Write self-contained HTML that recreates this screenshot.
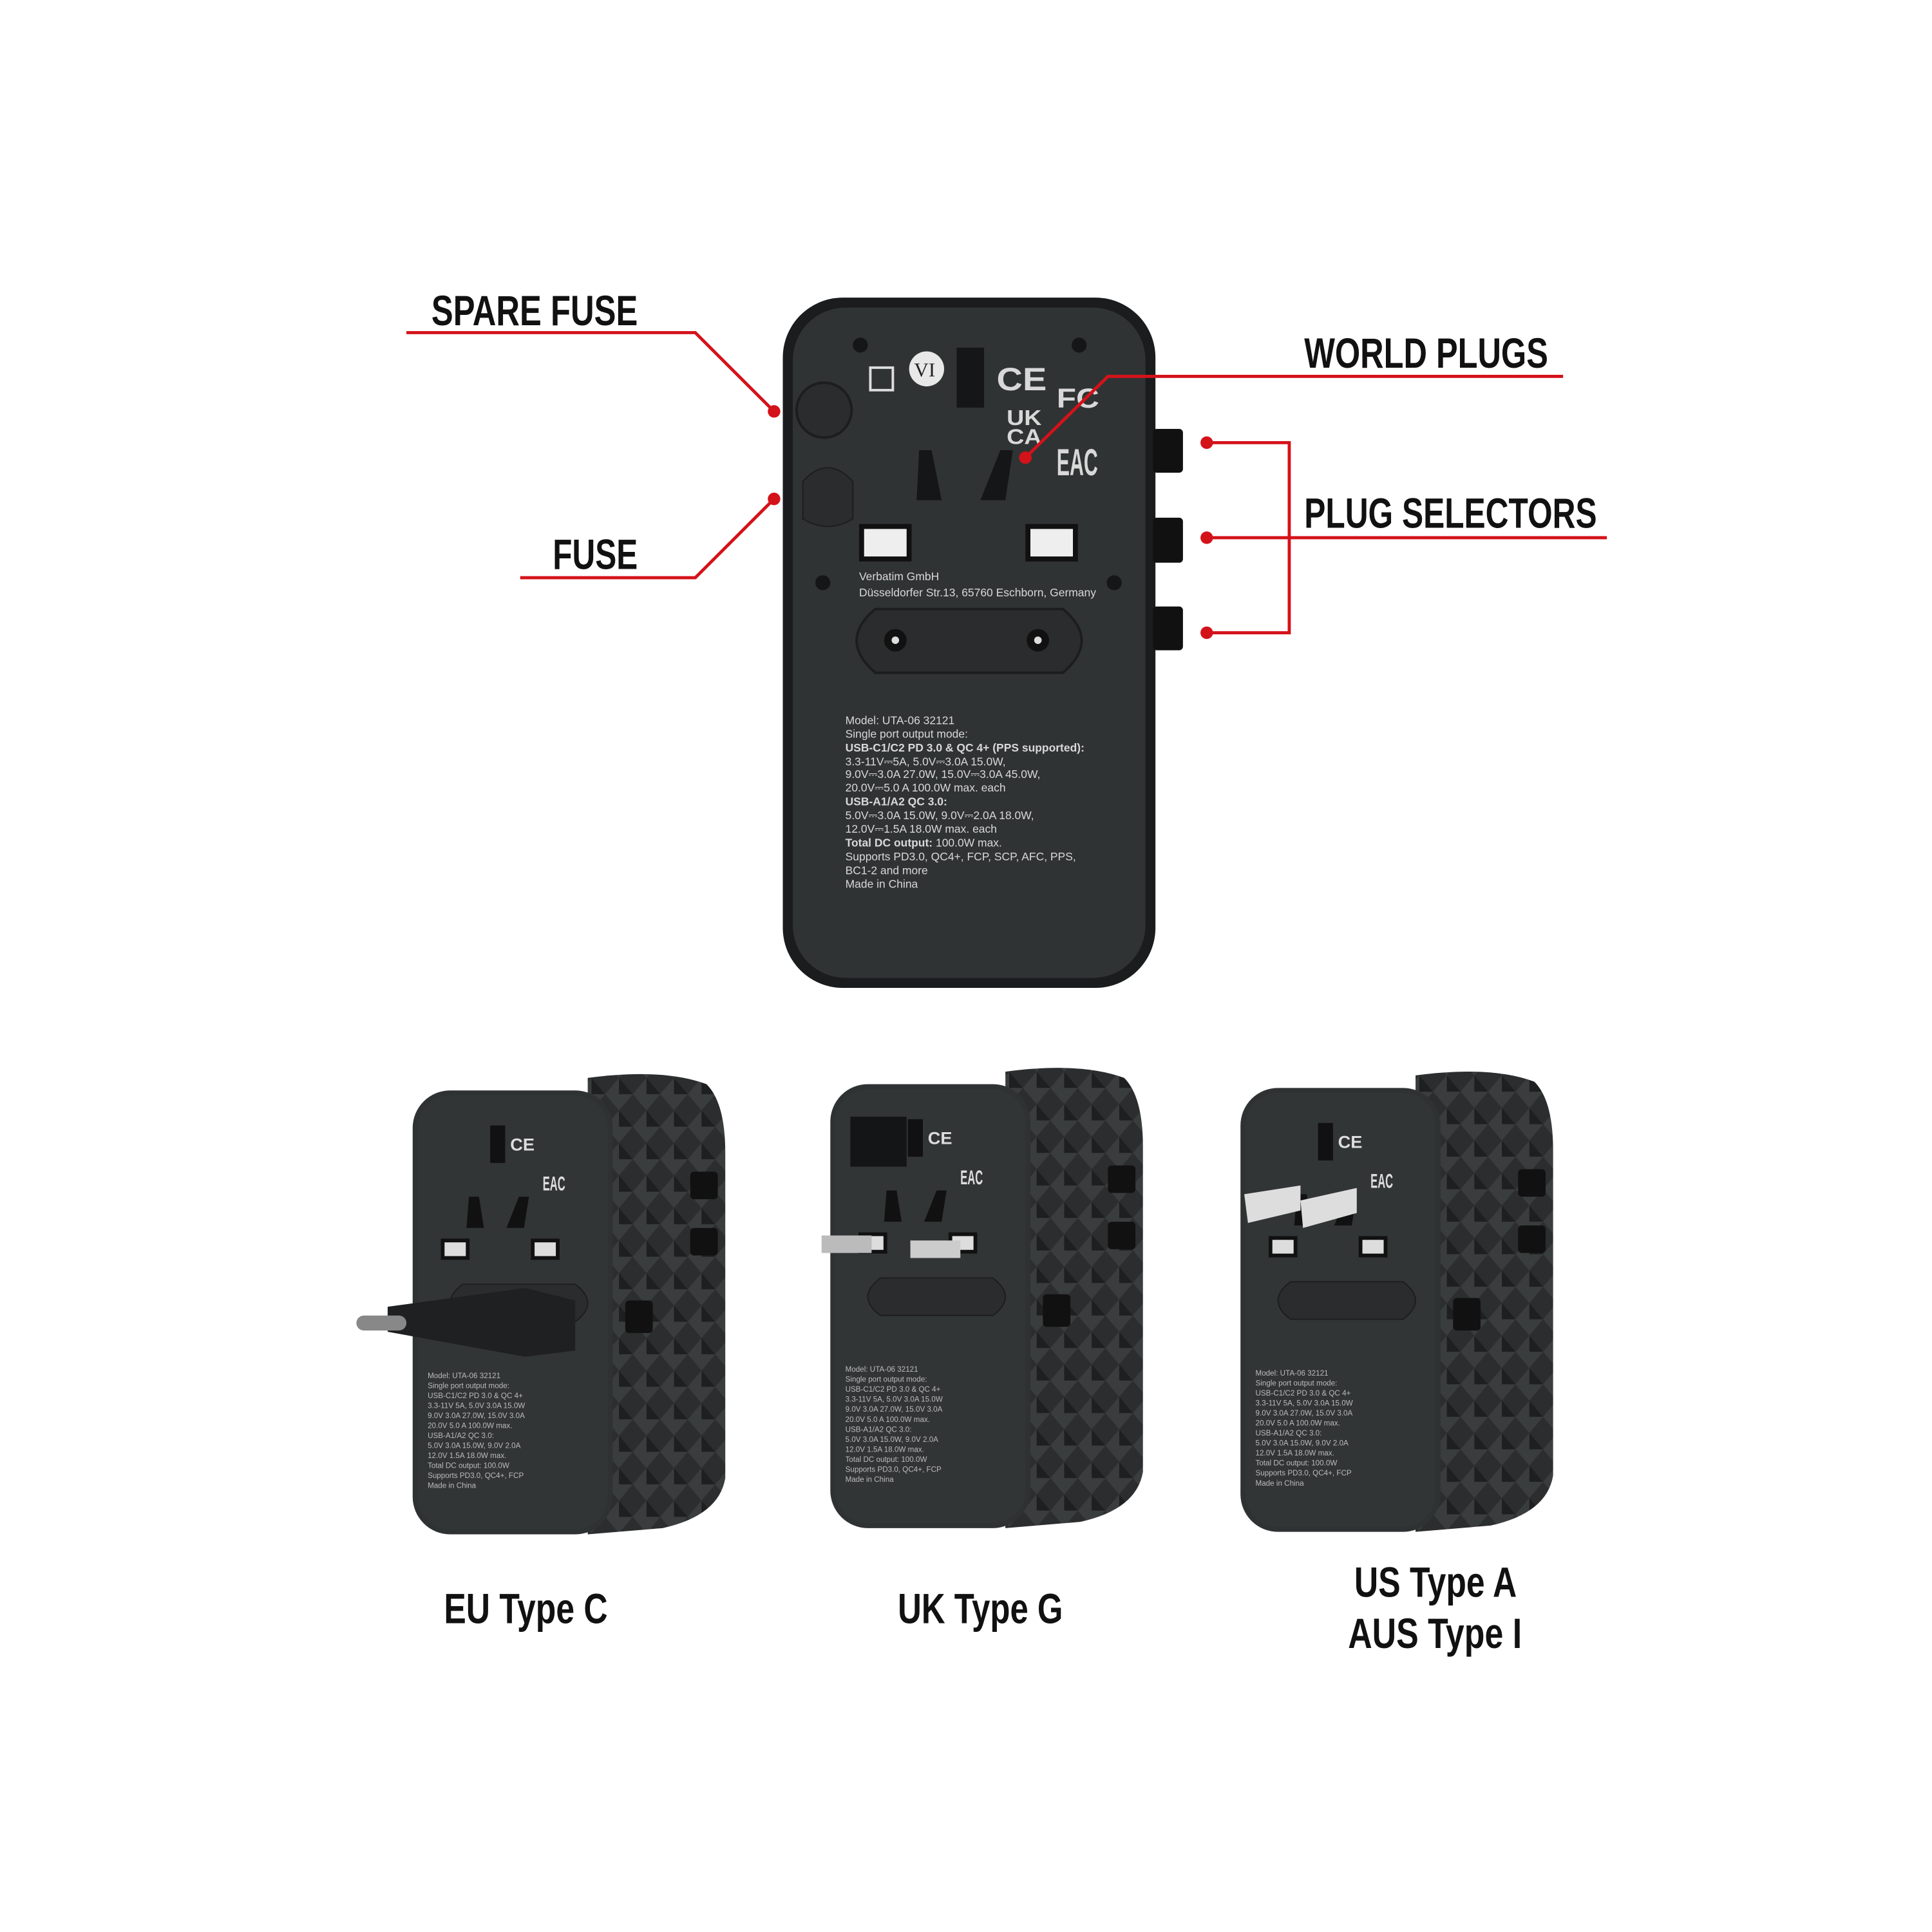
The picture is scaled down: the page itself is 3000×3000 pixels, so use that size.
<!DOCTYPE html>
<html><head><meta charset="utf-8"><style>
html,body{margin:0;padding:0;background:#fff;}
svg{display:block;}
.lbl{font-family:"Liberation Sans Narrow","Liberation Sans",sans-serif;font-weight:bold;fill:#111;}
.sm{font-family:"Liberation Sans",sans-serif;fill:#d8d8d8;}
</style></head><body>
<svg width="3000" height="3000" viewBox="0 0 1545 1545" xmlns="http://www.w3.org/2000/svg">
<rect width="1545" height="1545" fill="#fff"/>
<!-- top device -->
<rect x="626" y="238" width="298" height="552" rx="48" fill="#1a1c1d"/>
<rect x="634" y="246" width="282" height="536" rx="42" fill="#303334"/>
<g fill="#151617">
<circle cx="688" cy="276" r="6"/><circle cx="863" cy="276" r="6"/>
<circle cx="658" cy="466" r="6"/><circle cx="891" cy="466" r="6"/>
<rect x="765" y="278" width="22" height="48"/>
<path d="M735 360 l10 0 l8 40 l-20 0z"/><path d="M800 360 l10 0 l-6 40 l-20 0z"/>
</g>
<circle cx="659" cy="328" r="22" fill="#2a2c2d" stroke="#1c1d1e" stroke-width="2"/>
<path d="M642 385 q20 -22 40 0 l0 30 q-20 12 -40 0z" fill="#2a2c2d" stroke="#1c1d1e"/>
<circle cx="741" cy="295" r="14" fill="#e8e8e8"/><text x="731" y="301" font-size="16" font-family="Liberation Serif" fill="#222">VI</text>
<rect x="696" y="294" width="18" height="18" fill="none" stroke="#ddd" stroke-width="2"/>
<text x="797" y="312" class="sm" font-size="26" font-weight="bold" textLength="40" lengthAdjust="spacingAndGlyphs">CE</text>
<text x="845" y="326" class="sm" font-size="22" font-weight="bold" textLength="34" lengthAdjust="spacingAndGlyphs">FC</text>
<text x="805" y="340" class="sm" font-size="17" font-weight="bold" textLength="28" lengthAdjust="spacingAndGlyphs">UK</text>
<text x="805" y="355" class="sm" font-size="17" font-weight="bold" textLength="28" lengthAdjust="spacingAndGlyphs">CA</text>
<text x="845" y="380" class="sm" font-size="30" font-weight="bold" textLength="33" lengthAdjust="spacingAndGlyphs">EAC</text>
<rect x="689" y="421" width="38" height="26" fill="#eee" stroke="#111" stroke-width="4"/>
<rect x="822" y="421" width="38" height="26" fill="#eee" stroke="#111" stroke-width="4"/>
<text x="687" y="464" class="sm" font-size="9">Verbatim GmbH</text>
<text x="687" y="477" class="sm" font-size="9">Düsseldorfer Str.13, 65760 Eschborn, Germany</text>
<path d="M700 487 L850 487 Q880 512 850 538 L700 538 Q670 512 700 487Z" fill="#2a2c2d" stroke="#1c1d1e" stroke-width="2"/>
<circle cx="716" cy="512" r="9" fill="#111"/><circle cx="716" cy="512" r="3" fill="#ddd"/>
<circle cx="830" cy="512" r="9" fill="#111"/><circle cx="830" cy="512" r="3" fill="#ddd"/>
<g class="sm" font-size="9">
<text x="676" y="579">Model: UTA-06 32121</text>
<text x="676" y="590">Single port output mode:</text>
<text x="676" y="601" font-weight="bold">USB-C1/C2 PD 3.0 &amp; QC 4+ (PPS supported):</text>
<text x="676" y="612">3.3-11V⎓5A, 5.0V⎓3.0A 15.0W,</text>
<text x="676" y="622">9.0V⎓3.0A 27.0W, 15.0V⎓3.0A 45.0W,</text>
<text x="676" y="633">20.0V⎓5.0 A 100.0W max. each</text>
<text x="676" y="644" font-weight="bold">USB-A1/A2 QC 3.0:</text>
<text x="676" y="655">5.0V⎓3.0A 15.0W, 9.0V⎓2.0A 18.0W,</text>
<text x="676" y="666">12.0V⎓1.5A 18.0W max. each</text>
<text x="676" y="677"><tspan font-weight="bold">Total DC output:</tspan> 100.0W max.</text>
<text x="676" y="688">Supports PD3.0, QC4+, FCP, SCP, AFC, PPS,</text>
<text x="676" y="699">BC1-2 and more</text>
<text x="676" y="710">Made in China</text>
</g>
<g fill="#111"><rect x="922" y="343" width="24" height="35" rx="3"/><rect x="922" y="414" width="24" height="36" rx="3"/><rect x="922" y="485" width="24" height="35" rx="3"/></g>
<!-- red callouts -->
<g stroke="#d4121a" stroke-width="2.5" fill="none">
<polyline points="325,266 556,266 619,329"/>
<polyline points="416,462 556,462 619,399"/>
<polyline points="1250,301 886,301 820,366"/>
<line x1="965" y1="430" x2="1285" y2="430"/>
<polyline points="965,354 1031,354 1031,506 965,506"/>
</g>
<g fill="#d4121a"><circle cx="619" cy="329" r="5"/><circle cx="619" cy="399" r="5"/><circle cx="820" cy="366" r="5"/><circle cx="965" cy="354" r="5"/><circle cx="965" cy="430" r="5"/><circle cx="965" cy="506" r="5"/></g>
<text class="lbl" x="345" y="260" font-size="34" textLength="165" lengthAdjust="spacingAndGlyphs">SPARE FUSE</text>
<text class="lbl" x="442" y="455" font-size="34" textLength="68" lengthAdjust="spacingAndGlyphs">FUSE</text>
<text class="lbl" x="1043" y="294" font-size="34" textLength="195" lengthAdjust="spacingAndGlyphs">WORLD PLUGS</text>
<text class="lbl" x="1043" y="422" font-size="34" textLength="234" lengthAdjust="spacingAndGlyphs">PLUG SELECTORS</text>
<!-- bottom devices -->
<defs>
<pattern id="dia" width="22" height="26" patternUnits="userSpaceOnUse"><rect width="22" height="26" fill="#2b2d2e"/><path d="M11 0 L22 13 L11 26 L0 13Z" fill="#3a3d3e"/><path d="M11 0 L22 13 L11 13Z" fill="#1d1f20"/></pattern>
<g id="dev">
<path d="M140 0 Q200 -8 235 5 Q250 20 250 60 L250 320 Q245 350 200 360 L140 365Z" fill="url(#dia)"/>
<rect x="0" y="10" width="160" height="355" rx="30" fill="#2f3233"/>
<rect x="4" y="14" width="152" height="347" rx="26" fill="#323536"/>
<g fill="#111"><rect x="62" y="38" width="12" height="30"/><path d="M45 95 l8 0 l4 25 l-14 0z"/><path d="M85 95 l8 0 l-4 25 l-14 0z"/></g>
<rect x="24" y="130" width="20" height="14" fill="#ddd" stroke="#111" stroke-width="3"/>
<rect x="96" y="130" width="20" height="14" fill="#ddd" stroke="#111" stroke-width="3"/>
<text x="78" y="58" font-size="14" fill="#ddd" font-family="Liberation Sans" font-weight="bold">CE</text>
<text x="104" y="90" font-size="16" fill="#ddd" font-family="Liberation Sans" font-weight="bold" textLength="18" lengthAdjust="spacingAndGlyphs">EAC</text>
<path d="M40 165 L130 165 Q150 180 130 195 L40 195 Q20 180 40 165Z" fill="#2a2c2d" stroke="#1c1d1e"/>
<g fill="#bbb" font-family="Liberation Sans" font-size="6">
<text x="12" y="240">Model: UTA-06 32121</text><text x="12" y="248">Single port output mode:</text>
<text x="12" y="256">USB-C1/C2 PD 3.0 &amp; QC 4+</text><text x="12" y="264">3.3-11V 5A, 5.0V 3.0A 15.0W</text>
<text x="12" y="272">9.0V 3.0A 27.0W, 15.0V 3.0A</text><text x="12" y="280">20.0V 5.0 A 100.0W max.</text>
<text x="12" y="288">USB-A1/A2 QC 3.0:</text><text x="12" y="296">5.0V 3.0A 15.0W, 9.0V 2.0A</text>
<text x="12" y="304">12.0V 1.5A 18.0W max.</text><text x="12" y="312">Total DC output: 100.0W</text>
<text x="12" y="320">Supports PD3.0, QC4+, FCP</text><text x="12" y="328">Made in China</text></g>
<g fill="#111"><rect x="222" y="75" width="22" height="22" rx="3"/><rect x="222" y="120" width="22" height="22" rx="3"/><rect x="170" y="178" width="22" height="26" rx="3"/></g>
</g>
</defs>
<use href="#dev" x="330" y="862"/>
<use href="#dev" x="664" y="857"/>
<use href="#dev" x="992" y="860"/>
<!-- EU plug -->
<path d="M310 1045 L420 1030 L460 1040 L460 1080 L420 1085 L310 1065Z" fill="#1e2021"/>
<rect x="285" y="1052" width="40" height="12" rx="6" fill="#888"/>
<!-- UK plug -->
<rect x="680" y="893" width="45" height="40" fill="#141516"/>
<rect x="657" y="988" width="40" height="14" fill="#bbb"/><rect x="728" y="992" width="40" height="14" fill="#ccc"/>
<!-- US plug -->
<path d="M995 955 L1040 948 L1040 968 L998 978Z" fill="#ddd"/><path d="M1040 960 L1085 950 L1085 970 L1042 982Z" fill="#ddd"/>
<text class="lbl" x="355" y="1298" font-size="34" textLength="131" lengthAdjust="spacingAndGlyphs">EU Type C</text>
<text class="lbl" x="718" y="1298" font-size="34" textLength="132" lengthAdjust="spacingAndGlyphs">UK Type G</text>
<text class="lbl" x="1083" y="1277" font-size="34" textLength="130" lengthAdjust="spacingAndGlyphs">US Type A</text>
<text class="lbl" x="1078" y="1318" font-size="34" textLength="139" lengthAdjust="spacingAndGlyphs">AUS Type I</text>
</svg>
</body></html>
